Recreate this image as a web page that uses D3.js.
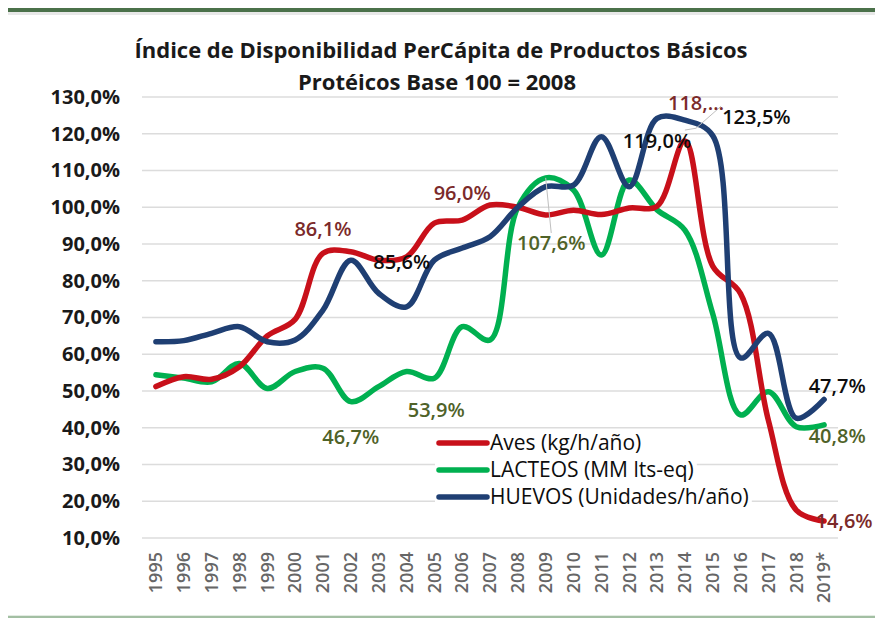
<!DOCTYPE html>
<html>
<head>
<meta charset="utf-8">
<script src="https://cdn.jsdelivr.net/npm/d3@7"></script>
<style>
  body { margin: 0; background: #fff; }
  svg { display: block; font-family: "Open Sans", "Noto Sans", sans-serif; }
</style>
</head>
<body>
<div id="chart"></div>
<script>
// Indice de disponibilidad per capita, base 100 = 2008

var years = ['1995','1996','1997','1998','1999','2000','2001','2002','2003','2004',
  '2005','2006','2007','2008','2009','2010','2011','2012','2013','2014',
  '2015','2016','2017','2018','2019*'];

var aves = [51.2, 53.9, 53.2, 56.6, 65, 69.5, 87.5, 87.9, 85.6, 86.5,
  95.7, 96.5, 100.6, 100, 97.9, 99.2, 98, 99.8, 100.3, 118,
  84, 76.5, 42, 17.6, 14.6];

var lacteos = [54.4, 53.5, 52.5, 57.5, 50.7, 55.3, 56.2, 47.1, 51.2, 55.3,
  53.5, 67.5, 63.9, 100, 108, 104.7, 87, 107.4, 99.3, 93.8,
  71, 43.5, 49.8, 40.3, 40.8];

var huevos = [63.4, 63.7, 65.7, 67.5, 63.4, 63.9, 72, 85.6, 76.6, 72.9,
  85.6, 88.9, 92, 100, 105.6, 106, 119.2, 105.6, 124.2, 123.7,
  119.5, 59, 65.7, 42.6, 47.7];

var seriesNames = ['Aves (kg/h/año)', 'LACTEOS (MM lts-eq)', 'HUEVOS (Unidades/h/año)'];
var seriesColors = ['#C8101A', '#00B050', '#1F3F73'];
var labelColors = ['#7B2A2A', '#4F6228', '#0D0D0D'];

var yTicks = [10, 20, 30, 40, 50, 60, 70, 80, 90, 100, 110, 120, 130];

// data labels: series index, year, shift in bands, value where the text sits
var labels = [
  {s: 0, year: '2001', shift: 0, at: 94.1, text: '86,1%'},
  {s: 0, year: '2006', shift: 0, at: 103.9, text: '96,0%'},
  {s: 0, year: '2014', shift: 0.4, at: 128.4, text: '118,…'},
  {s: 0, year: '2019*', shift: 0.72, at: 14.6, text: '14,6%'},
  {s: 1, year: '2002', shift: 0, at: 37.5, text: '46,7%'},
  {s: 1, year: '2005', shift: 0.07, at: 44.8, text: '53,9%'},
  {s: 1, year: '2009', shift: 0.2, at: 90.3, text: '107,6%'},
  {s: 1, year: '2019*', shift: 0.47, at: 37.8, text: '40,8%'},
  {s: 2, year: '2003', shift: 0.83, at: 85.1, text: '85,6%'},
  {s: 2, year: '2013', shift: 0, at: 118.0, text: '119,0%'},
  {s: 2, year: '2016', shift: 0.57, at: 124.6, text: '123,5%'},
  {s: 2, year: '2019*', shift: 0.47, at: 51.4, text: '47,7%'}
];

var width = 875, height = 619;
var svg = d3.select('#chart').append('svg')
  .attr('width', width)
  .attr('height', height);

svg.append('rect').attr('width', width).attr('height', height).attr('fill', '#fff');

// frame lines top and bottom
svg.append('rect').attr('x', 8).attr('y', 8).attr('width', width - 8).attr('height', 4).attr('fill', '#4B714A');
svg.append('rect').attr('x', 8).attr('y', 12).attr('width', width - 8).attr('height', 3).attr('fill', '#E8E8E8');
svg.append('rect').attr('x', 8).attr('y', 615).attr('width', width - 8).attr('height', 1).attr('fill', '#E3ECE3');
svg.append('rect').attr('x', 8).attr('y', 616).attr('width', width - 8).attr('height', 2).attr('fill', '#A3BFA3');

var x = d3.scaleBand().domain(years).range([142, 838]);
var y = d3.scaleLinear().domain([10, 130]).range([538, 97]);
var cx = function(yr, shift) { return x(yr) + x.bandwidth() / 2 + (shift || 0) * x.bandwidth(); };

// title
var title = svg.append('text')
  .attr('text-anchor', 'middle')
  .attr('font-weight', 'bold')
  .attr('font-size', 22)
  .attr('fill', '#1a1a1a');
title.append('tspan').attr('x', 441).attr('y', 58).text('Índice de Disponibilidad PerCápita de Productos Básicos');
title.append('tspan').attr('x', 437).attr('y', 90).text('Protéicos Base 100 = 2008');

// gridlines
svg.append('g').selectAll('line')
  .data(yTicks)
  .enter().append('line')
  .attr('x1', 142).attr('x2', 838)
  .attr('y1', function(d) { return y(d); })
  .attr('y2', function(d) { return y(d); })
  .attr('stroke', '#DCDCDC')
  .attr('stroke-width', 1.5);

// y axis
var yAxis = d3.axisLeft(y)
  .tickValues(yTicks)
  .tickSize(0)
  .tickPadding(0)
  .tickFormat(function(d) { return d3.format('.1f')(d).replace('.', ',') + '%'; });
var gy = svg.append('g').attr('transform', 'translate(120,0)').call(yAxis);
gy.select('.domain').remove();
gy.selectAll('text')
  .attr('font-family', '"Open Sans", sans-serif')
  .attr('font-size', 20)
  .attr('font-weight', 'bold')
  .attr('fill', '#1a1a1a');

// x axis
var xAxis = d3.axisBottom(x).tickSize(0).tickPadding(0);
var gx = svg.append('g').attr('transform', 'translate(0,552)').call(xAxis);
gx.select('.domain').remove();
gx.selectAll('text')
  .attr('font-family', '"Open Sans", sans-serif')
  .attr('font-size', 18)
  .attr('font-weight', 600)
  .attr('fill', '#666')
  .attr('text-anchor', 'end')
  .attr('dy', '0.35em')
  .attr('transform', 'rotate(-90)')
  .attr('x', 0)
  .attr('y', 0);

// lines
var line = d3.line()
  .x(function(d, i) { return cx(years[i]); })
  .y(function(d) { return y(d); })
  .curve(d3.curveCatmullRom.alpha(0.5));

var allSeries = [aves, lacteos, huevos];
// draw green first, then red, blue on top
[1, 0, 2].forEach(function(k) {
  svg.append('path')
    .datum(allSeries[k])
    .attr('d', line)
    .attr('fill', 'none')
    .attr('stroke', seriesColors[k])
    .attr('stroke-width', 5.5)
    .attr('stroke-linejoin', 'round')
    .attr('stroke-linecap', 'round');
});

// leader lines
svg.append('line')
  .attr('x1', cx('2009')).attr('y1', y(lacteos[14]))
  .attr('x2', cx('2009', 0.2)).attr('y2', y(93))
  .attr('stroke', '#BFBFBF').attr('stroke-width', 1);
svg.append('polyline')
  .attr('points', [[cx('2014'), y(aves[19] + 3)], [cx('2014', 0.4), y(121.5)], [cx('2014', 1.3), y(127.5)]].join(' '))
  .attr('fill', 'none')
  .attr('stroke', '#BFBFBF').attr('stroke-width', 1);

// data labels
svg.append('g').selectAll('text')
  .data(labels)
  .enter().append('text')
  .attr('x', function(d) { return cx(d.year, d.shift); })
  .attr('y', function(d) { return y(d.at); })
  .attr('dy', '0.35em')
  .attr('text-anchor', 'middle')
  .attr('font-size', 20)
  .attr('font-weight', 600)
  .attr('fill', function(d) { return labelColors[d.s]; })
  .text(function(d) { return d.text; });

// legend
var legend = svg.append('g').attr('transform', 'translate(437,443)');
var entries = legend.selectAll('g')
  .data(seriesNames)
  .enter().append('g')
  .attr('transform', function(d, i) { return 'translate(0,' + (i * 27) + ')'; });
entries.append('rect')
  .attr('fill', '#fff');
entries.append('line')
  .attr('x1', 2).attr('x2', 50)
  .attr('stroke', function(d, i) { return seriesColors[i]; })
  .attr('stroke-width', 5.5)
  .attr('stroke-linecap', 'round');
entries.append('text')
  .attr('x', 53)
  .attr('dy', '0.35em')
  .attr('font-size', 21)
  .attr('fill', '#0D0D0D')
  .text(function(d) { return d; });
entries.each(function() {
  var g = d3.select(this);
  var w = g.select('text').node().getComputedTextLength();
  g.select('rect').attr('x', -2).attr('y', -13).attr('width', w + 58).attr('height', 26);
});
</script>
</body>
</html>
